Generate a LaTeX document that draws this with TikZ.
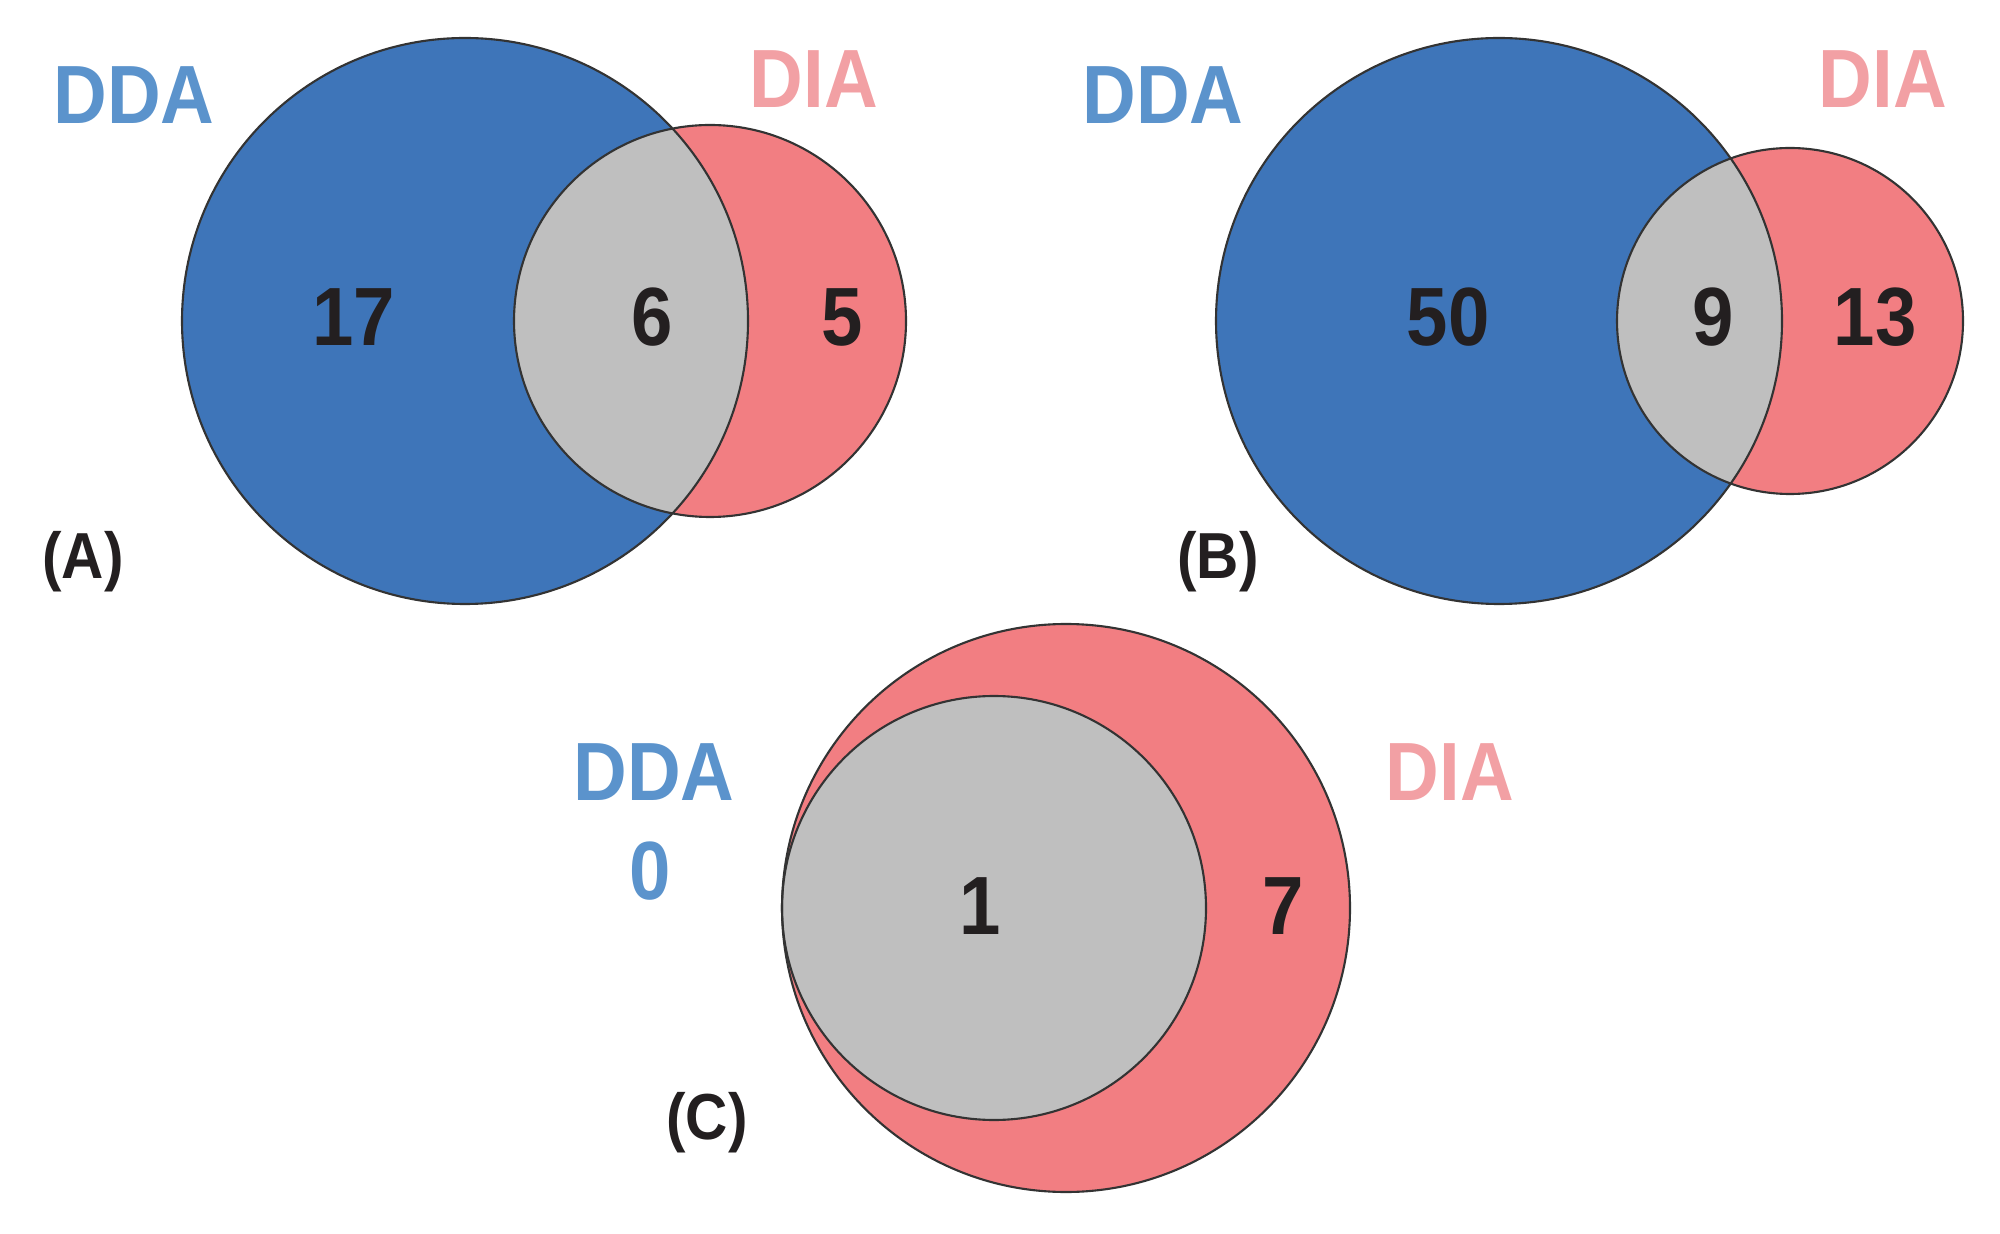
\documentclass[tikz,border=0pt]{standalone}
\usepackage{fontspec}
\setmainfont{Liberation Sans}
\newfontfamily\vennfont[FakeStretch=0.9]{Liberation Sans}
\usetikzlibrary{positioning}
\definecolor{ddafill}{HTML}{3E75B9}
\definecolor{diafill}{HTML}{F27E82}
\definecolor{bothfill}{HTML}{BFBFBF}
\definecolor{ddatext}{HTML}{5B93CC}
\definecolor{diatext}{HTML}{F2A0A4}
\definecolor{numtext}{HTML}{231F20}
\tikzstyle{rim}=[draw=black!80,line width=0.6pt]
\tikzstyle{set}=[font=\vennfont\bfseries\fontsize{23.5}{28}\selectfont,inner sep=0pt]
\tikzstyle{num}=[font=\vennfont\bfseries\fontsize{23.5}{28}\selectfont,text=numtext,inner sep=0pt]
\tikzstyle{tag}=[font=\vennfont\bfseries\fontsize{18.5}{22}\selectfont,text=numtext,inner sep=0pt]

\begin{document}
\begin{tikzpicture}[x=0.01cm,y=-0.01cm]
  \useasboundingbox (0,0) rectangle (2000,1234);
  % (A)
  \begin{scope}
    \fill[ddafill] (465,321) circle (283);
    \fill[diafill] (710,321) circle (196);
    \begin{scope}
      \clip (465,321) circle (283);
      \fill[bothfill] (710,321) circle (196);
    \end{scope}
    \draw[rim] (465,321) circle (283);
    \draw[rim] (710,321) circle (196);
    \node[set,text=ddatext] (DDAa) at (134,95) {DDA};
    \node[set,text=diatext] (DIAa) at (814,79) {DIA};
    \node[num] (onlyDDAa) at (354,317) {17};
    \node[num] (bothA) at (652,317) {6};
    \node[num] (onlyDIAa) at (842,317) {5};
    \node[tag] (tagA) at (83,562) {(A)};
  \end{scope}
  % (B)
  \begin{scope}
    \fill[ddafill] (1499,321) circle (283);
    \fill[diafill] (1790,321) circle (173);
    \begin{scope}
      \clip (1499,321) circle (283);
      \fill[bothfill] (1790,321) circle (173);
    \end{scope}
    \draw[rim] (1499,321) circle (283);
    \draw[rim] (1790,321) circle (173);
    \node[set,text=ddatext] (DDAb) at (1163,95) {DDA};
    \node[set,text=diatext] (DIAb) at (1883,79) {DIA};
    \node[num] (onlyDDAb) at (1448,317) {50};
    \node[num] (bothB) at (1713,317) {9};
    \node[num] (onlyDIAb) at (1875,317) {13};
    \node[tag] (tagB) at (1218,562) {(B)};
  \end{scope}
  % (C)
  \begin{scope}
    \fill[diafill] (1066,908) circle (284);
    \fill[bothfill] (994,908) circle (212);
    \draw[rim] (1066,908) circle (284);
    \draw[rim] (994,908) circle (212);
    \node[set,text=ddatext] (DDAc) at (654,772) {DDA};
    \node[set,text=ddatext] (onlyDDAc) at (650,871) {0};
    \node[set,text=diatext] (DIAc) at (1450,772) {DIA};
    \node[num] (bothC) at (980,906) {1};
    \node[num] (onlyDIAc) at (1283,906) {7};
    \node[tag] (tagC) at (707,1123) {(C)};
  \end{scope}
\end{tikzpicture}
\end{document}
